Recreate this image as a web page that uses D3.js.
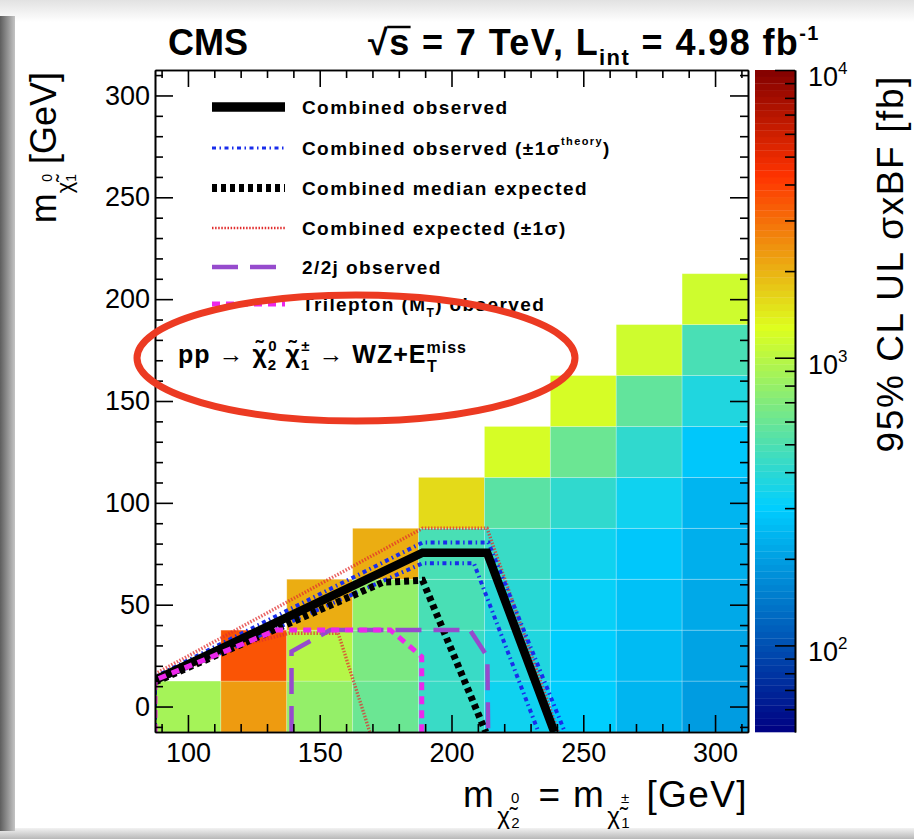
<!DOCTYPE html>
<html><head><meta charset="utf-8">
<script src="https://cdn.jsdelivr.net/npm/d3@7"></script>
<style>
html,body{margin:0;padding:0;background:#fff;}
svg{display:block;}
text{font-family:"Liberation Sans",Arial,Helvetica,sans-serif;fill:#000;}
</style></head><body>
<svg id="chart" width="914" height="839"></svg>
<script>
// ---- grid of mass points (GeV) and 95% CL upper limits on sigma x BF (fb)
const charginoMass = [100, 125, 150, 175, 200, 225, 250, 275, 300];
const lspMass = [0, 25, 50, 75, 100, 125, 150, 175, 200];
// one list per chargino mass, from LSP mass 0 upward
const upperLimit = [
  [890],
  [2240, 3470],
  [795, 1000, 2090],
  [617, 661, 776, 2040],
  [437, 447, 479, 479, 1585],
  [339, 363, 398, 427, 550, 1202],
  [295, 295, 316, 339, 417, 589, 1202],
  [240, 251, 263, 282, 331, 407, 562, 1148],
  [200, 209, 219, 229, 245, 288, 363, 490, 1122]
];

// ---- exclusion contours [m(chargino), m(LSP)]
const combObserved   = [[87.5, 13], [189, 75.5], [213.5, 75.5], [239, -12.5]];
const combObsTheoUp  = [[87.5, -12.5], [87.5, 14.5], [189, 80.5], [214, 80.5], [243, -12.5]];
const combObsTheoDn  = [[87.5, -12.5], [87.5, 12], [189, 70.3], [208.5, 70.3], [233, -12.5]];
const combExpected   = [[87.5, 12], [174, 61], [189, 62], [213, -12.5]];
const combExpUp      = [[87.5, 16], [189, 87.5], [213.5, 87.5], [240.5, -12.5]];
const combExpDn      = [[87.5, 12], [120, 30], [138.5, 36], [157, 36], [169, -12.5]];
const twoLep2jObs    = [[139.3, -12.5], [139.3, 27], [154, 37.6], [207, 37.6], [213.6, 24.5], [213.9, -12.5]];
const trileptonObs   = [[87.5, -12.5], [87.5, 13], [133.7, 37.6], [176.8, 37.6], [188.7, 24.5], [188.7, -12.5]];

// ---- axis ticks
const xMajorTicks = [100, 150, 200, 250, 300];
const yMajorTicks = [0, 50, 100, 150, 200, 250, 300];
const zMajorTicks = [100, 1000, 10000];

const svg = d3.select("#chart");
const W = 914, H = 839;
const plot = {left: 155, right: 748, top: 70, bottom: 732};
const cbar = {left: 755, right: 795};

const x = d3.scaleLinear().domain([87.5, 312.5]).range([plot.left, plot.right]);
const y = d3.scaleLinear().domain([-12.5, 312.5]).range([plot.bottom, plot.top]);
const z = d3.scaleLog().domain([50, 10000]).range([plot.bottom, plot.top]);
const zNorm = d3.scaleLog().domain([50, 10000]).range([0, 1]).clamp(true);

// rainbow palette: dark blue -> cyan -> yellow -> red -> dark red
const stops = [0.00, 0.34, 0.61, 0.84, 1.00];
const red   = [0.00, 0.00, 0.87, 1.00, 0.51];
const green = [0.00, 0.81, 1.00, 0.20, 0.00];
const blue  = [0.51, 1.00, 0.12, 0.00, 0.00];
const nLevels = 99;
function palette(t) {
  t = Math.max(0, Math.min(1, t));
  let i = 0;
  while (i < stops.length - 2 && t > stops[i + 1]) i++;
  const f = (t - stops[i]) / (stops[i + 1] - stops[i]);
  const c = a => Math.round(255 * (a[i] + f * (a[i + 1] - a[i])));
  return `rgb(${c(red)},${c(green)},${c(blue)})`;
}
function levelColor(v) {
  const k = Math.min(nLevels - 1, Math.floor(zNorm(v) * nLevels));
  return palette((k + 0.5) / nLevels);
}

// ---- page shading at the edges
const defs = svg.append("defs");
const gl = defs.append("linearGradient").attr("id", "edgeLeft").attr("x1", 0).attr("x2", 1).attr("y1", 0).attr("y2", 0);
gl.append("stop").attr("offset", 0).attr("stop-color", "#5e5e5e");
gl.append("stop").attr("offset", 1).attr("stop-color", "#c4c4c4");
const gt = defs.append("linearGradient").attr("id", "edgeTop").attr("x1", 0).attr("x2", 0).attr("y1", 0).attr("y2", 1);
gt.append("stop").attr("offset", 0).attr("stop-color", "#e2e2e2");
gt.append("stop").attr("offset", 1).attr("stop-color", "#ffffff");
const gb = defs.append("linearGradient").attr("id", "edgeBottom").attr("x1", 0).attr("x2", 0).attr("y1", 0).attr("y2", 1);
gb.append("stop").attr("offset", 0).attr("stop-color", "#f2f2f2");
gb.append("stop").attr("offset", 1).attr("stop-color", "#b8b8b8");

svg.append("rect").attr("width", W).attr("height", H).attr("fill", "#fff");
svg.append("rect").attr("x", 0).attr("y", 0).attr("width", W).attr("height", 22).attr("fill", "url(#edgeTop)");
svg.append("rect").attr("x", 0).attr("y", 828).attr("width", W).attr("height", 11).attr("fill", "url(#edgeBottom)");
svg.append("rect").attr("x", 0).attr("y", 16).attr("width", 15).attr("height", 815).attr("fill", "url(#edgeLeft)");

// ---- limit cells
const cells = [];
charginoMass.forEach((mx, i) => upperLimit[i].forEach((v, j) => cells.push({mx, my: lspMass[j], v})));
svg.append("g").selectAll("rect").data(cells).join("rect")
  .attr("x", d => x(d.mx - 12.5))
  .attr("y", d => y(d.my + 12.5))
  .attr("width", d => x(d.mx + 12.5) - x(d.mx - 12.5))
  .attr("height", d => y(d.my - 12.5) - y(d.my + 12.5))
  .attr("fill", d => levelColor(d.v))
  .attr("stroke", "rgba(255,255,255,0.3)")
  .attr("stroke-width", 0.8);

// ---- contours
const clip = defs.append("clipPath").attr("id", "plotClip");
clip.append("rect").attr("x", plot.left).attr("y", plot.top).attr("width", plot.right - plot.left).attr("height", plot.bottom - plot.top);
const line = d3.line().x(d => x(d[0])).y(d => y(d[1]));
const styles = {
  expBand:   {stroke: "rgb(225,45,45)", width: 3.4, dash: "1.5,1.6", opacity: 0.75},
  theory:    {stroke: "rgb(25,45,235)", width: 4, dash: "4,3.5,1.5,3.5", opacity: 1},
  expected:  {stroke: "#000", width: 7, dash: "5,4", opacity: 1},
  observed:  {stroke: "#000", width: 8.5, dash: null, opacity: 1},
  twoLep:    {stroke: "rgb(150,75,205)", width: 4.5, dash: "26,12", opacity: 1},
  trilep:    {stroke: "rgb(235,40,235)", width: 5, dash: "8,6", opacity: 1}
};
const gLines = svg.append("g").attr("clip-path", "url(#plotClip)");
function drawContour(pts, s) {
  gLines.append("path").attr("d", line(pts)).attr("fill", "none")
    .attr("stroke", s.stroke).attr("stroke-width", s.width).attr("stroke-opacity", s.opacity)
    .attr("stroke-dasharray", s.dash).attr("stroke-linejoin", "miter");
}
drawContour(combExpUp, styles.expBand);
drawContour(combExpDn, styles.expBand);
drawContour(combObsTheoUp, styles.theory);
drawContour(combObsTheoDn, styles.theory);
drawContour(combExpected, styles.expected);
drawContour(combObserved, styles.observed);
drawContour(twoLep2jObs, styles.twoLep);
drawContour(trileptonObs, styles.trilep);

// ---- frame and ticks (ROOT style, ticks inside)
const minorX = d3.range(90, 311, 10).filter(v => !xMajorTicks.includes(v));
const minorY = d3.range(-10, 311, 10).filter(v => !yMajorTicks.includes(v));
const axisG = svg.append("g");
function styleAxis(g) {
  g.select(".domain").attr("stroke", "#000").attr("stroke-width", 1.6);
  g.selectAll(".tick line").attr("stroke", "#000").attr("stroke-width", 1.6);
  g.selectAll("text").attr("font-size", 27).attr("font-family", "Liberation Sans, Arial, sans-serif").attr("fill", "#000");
}
axisG.append("g").attr("transform", `translate(0,${plot.bottom})`)
  .call(d3.axisBottom(x).tickValues(xMajorTicks).tickSize(-17).tickSizeOuter(0).tickPadding(11))
  .call(styleAxis);
axisG.append("g").attr("transform", `translate(0,${plot.bottom})`)
  .call(d3.axisBottom(x).tickValues(minorX).tickSize(-8).tickSizeOuter(0).tickFormat(""))
  .call(styleAxis);
axisG.append("g").attr("transform", `translate(0,${plot.top})`)
  .call(d3.axisTop(x).tickValues(xMajorTicks).tickSize(-17).tickSizeOuter(0).tickFormat(""))
  .call(styleAxis);
axisG.append("g").attr("transform", `translate(0,${plot.top})`)
  .call(d3.axisTop(x).tickValues(minorX).tickSize(-8).tickSizeOuter(0).tickFormat(""))
  .call(styleAxis);
axisG.append("g").attr("transform", `translate(${plot.left},0)`)
  .call(d3.axisLeft(y).tickValues(yMajorTicks).tickSize(-18).tickSizeOuter(0).tickPadding(5))
  .call(styleAxis);
axisG.append("g").attr("transform", `translate(${plot.left},0)`)
  .call(d3.axisLeft(y).tickValues(minorY).tickSize(-8).tickSizeOuter(0).tickFormat(""))
  .call(styleAxis);
axisG.append("g").attr("transform", `translate(${plot.right},0)`)
  .call(d3.axisRight(y).tickValues(yMajorTicks).tickSize(-18).tickSizeOuter(0).tickFormat(""))
  .call(styleAxis);
axisG.append("g").attr("transform", `translate(${plot.right},0)`)
  .call(d3.axisRight(y).tickValues(minorY).tickSize(-8).tickSizeOuter(0).tickFormat(""))
  .call(styleAxis);

// ---- colour bar
const zEdges = d3.range(nLevels + 1).map(k => zNorm.invert(k / nLevels));
svg.append("g").selectAll("rect").data(d3.range(nLevels)).join("rect")
  .attr("x", cbar.left).attr("width", cbar.right - cbar.left)
  .attr("y", k => z(zEdges[k + 1]))
  .attr("height", k => z(zEdges[k]) - z(zEdges[k + 1]) + 0.3)
  .attr("fill", k => palette((k + 0.5) / nLevels));
const zMinor = [];
[10, 100, 1000].forEach(dec => d3.range(2, 10).forEach(m => { const v = m * dec; if (v > 50 && v < 10000) zMinor.push(v); }));
svg.append("g").attr("transform", `translate(${cbar.right},0)`)
  .call(d3.axisRight(z).tickValues(zMajorTicks).tickSize(-20).tickSizeOuter(0).tickFormat(""))
  .call(styleAxis);
svg.append("g").attr("transform", `translate(${cbar.right},0)`)
  .call(d3.axisRight(z).tickValues(zMinor).tickSize(-10).tickSizeOuter(0).tickFormat(""))
  .call(styleAxis);
const zLab = svg.append("g").selectAll("text").data(zMajorTicks).join("text")
  .attr("x", cbar.right + 13).attr("y", d => z(d) + 16).attr("font-size", 27);
zLab.append("tspan").text("10");
zLab.append("tspan").attr("font-size", 17).attr("dy", -12).text(d => Math.round(Math.log10(d)));

// ---- axis titles
const xt = svg.append("text").attr("x", plot.right).attr("y", 807).attr("text-anchor", "end")
  .attr("font-size", 37).attr("letter-spacing", 1.4);
xt.append("tspan").text("m");
xt.append("tspan").attr("font-size", 24).attr("dx", 2).attr("dy", 17).text("χ\u0303");
xt.append("tspan").attr("font-size", 15).attr("dy", 4).text("2");
xt.append("tspan").attr("font-size", 15).attr("dx", -10).attr("dy", -25).text("0");
xt.append("tspan").attr("font-size", 37).attr("dx", 6).attr("dy", 4).text(" = m");
xt.append("tspan").attr("font-size", 24).attr("dx", 2).attr("dy", 17).text("χ\u0303");
xt.append("tspan").attr("font-size", 15).attr("dy", 4).text("1");
xt.append("tspan").attr("font-size", 15).attr("dx", -10).attr("dy", -25).text("±");
xt.append("tspan").attr("font-size", 37).attr("dx", 4).attr("dy", 4).text(" [GeV]");

const yt = svg.append("text").attr("transform", "translate(56,72) rotate(-90)").attr("text-anchor", "end").attr("font-size", 36);
yt.append("tspan").text("m");
yt.append("tspan").attr("font-size", 22).attr("dy", 16).text("χ\u0303");
yt.append("tspan").attr("font-size", 14).attr("dy", 4).text("1");
yt.append("tspan").attr("font-size", 14).attr("dx", -8).attr("dy", -24).text("0");
yt.append("tspan").attr("font-size", 36).attr("dy", 4).text(" [GeV]");

svg.append("text").attr("transform", "translate(903,75) rotate(-90)").attr("text-anchor", "end")
  .attr("font-size", 37).attr("letter-spacing", 1.6).text("95% CL UL σxBF [fb]");

// ---- header
svg.append("text").attr("x", 168).attr("y", 55).attr("font-size", 36).attr("font-weight", "bold").text("CMS");
const hd = svg.append("text").attr("x", 368).attr("y", 55).attr("font-size", 36).attr("font-weight", "bold")
  .attr("letter-spacing", 1.4);
hd.append("tspan").text("√");
const sSpan = hd.append("tspan").text("s");
hd.append("tspan").text(" = 7 TeV, L");
hd.append("tspan").attr("font-size", 22).attr("dy", 10).text("int");
hd.append("tspan").attr("dy", -10).text(" = 4.98 fb");
hd.append("tspan").attr("font-size", 20).attr("dy", -15).text("-1");
try {
  const bb = sSpan.node().getBBox();
  svg.append("line").attr("x1", bb.x - 2).attr("x2", bb.x + bb.width)
    .attr("y1", bb.y + 5).attr("y2", bb.y + 5).attr("stroke", "#000").attr("stroke-width", 2.5);
} catch (e) {}

// ---- legend
const legendItems = [
  {style: styles.observed, width: 9.5, parts: [["Combined observed"]]},
  {style: styles.theory, width: 3, parts: [["Combined observed (±1σ"], ["theory", "sup"], [")"]]},
  {style: styles.expected, width: 8, parts: [["Combined median expected"]]},
  {style: styles.expBand, width: 2.4, parts: [["Combined expected (±1σ)"]]},
  {style: styles.twoLep, width: 4.5, parts: [["2/2j observed"]]},
  {style: styles.trilep, width: 5, parts: [["Trilepton (M"], ["T", "sub"], [") observed"]]}
];
const legRowY = [107, 148, 188, 228, 267, 304];
const leg = svg.append("g").selectAll("g").data(legendItems).join("g")
  .attr("transform", (d, i) => `translate(0,${legRowY[i]})`);
leg.append("line").attr("x1", 212).attr("x2", 285).attr("y1", 0).attr("y2", 0)
  .attr("stroke", d => d.style.stroke).attr("stroke-width", d => d.width)
  .attr("stroke-dasharray", d => d.style.dash);
leg.each(function(d) {
  const t = d3.select(this).append("text").attr("x", 302).attr("y", 7)
    .attr("font-size", 19).attr("font-weight", "bold").attr("letter-spacing", 1.4);
  let shift = 0;
  d.parts.forEach(p => {
    const s = t.append("tspan").text(p[0]);
    if (p[1] === "sup") { s.attr("font-size", 11).attr("dy", -10); shift = 10; }
    else if (p[1] === "sub") { s.attr("font-size", 12).attr("dy", 6); shift = -6; }
    else if (shift) { s.attr("dy", shift); shift = 0; }
  });
});

// ---- process annotation
const pr = svg.append("text").attr("x", 178).attr("y", 363).attr("font-size", 25).attr("font-weight", "bold")
  .attr("letter-spacing", 1);
pr.append("tspan").text("pp → χ\u0303");
pr.append("tspan").attr("font-size", 15).attr("dy", 7).text("2");
pr.append("tspan").attr("font-size", 15).attr("dx", -9).attr("dy", -19).text("0");
pr.append("tspan").attr("dy", 12).text(" χ\u0303");
pr.append("tspan").attr("font-size", 15).attr("dy", 7).text("1");
pr.append("tspan").attr("font-size", 15).attr("dx", -9).attr("dy", -19).text("±");
pr.append("tspan").attr("dy", 12).text(" → WZ+E");
pr.append("tspan").attr("font-size", 16).attr("dy", -10).text("miss");
pr.append("tspan").attr("font-size", 16).attr("dx", -40).attr("dy", 19).text("T");

svg.append("ellipse").attr("cx", 356).attr("cy", 358).attr("rx", 219).attr("ry", 63)
  .attr("fill", "none").attr("stroke", "rgb(236,58,34)").attr("stroke-width", 7);
</script>
</body></html>
